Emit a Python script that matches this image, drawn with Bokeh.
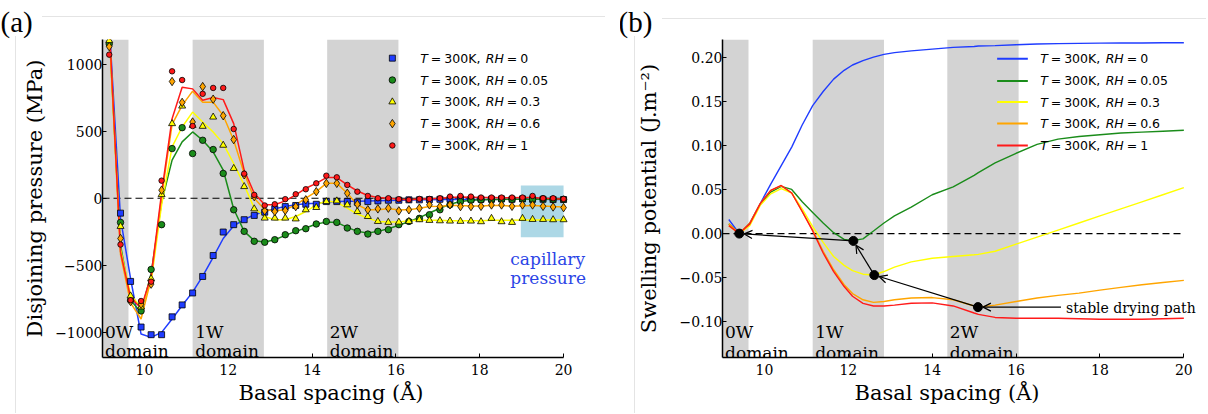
from bokeh.plotting import figure
from bokeh.layouts import row
from bokeh.models import (BoxAnnotation, Label, FixedTicker, Title,
                          CustomJSTickFormatter, Arrow, OpenHead)
from bokeh.embed import file_html
from bokeh.resources import INLINE

# ---------------- data: panel (a) disjoining pressure (MPa) ----------------
spacing_a = [9.16, 9.43, 9.67, 9.92, 10.16, 10.41, 10.66, 10.90, 11.15, 11.39,
             11.64, 11.88, 12.13, 12.38, 12.62, 12.87, 13.11, 13.36, 13.61, 13.85,
             14.10, 14.34, 14.59, 14.84, 15.08, 15.33, 15.57, 15.82, 16.07, 16.31,
             16.56, 16.80, 17.05, 17.29, 17.54, 17.79, 18.03, 18.28, 18.52, 18.77,
             19.02, 19.26, 19.51, 19.75, 20.00]

rh0_pts = [1400, -111, -620, -960, -1017, -1017, -884, -795, -706, -583, -427, -252, -197, -160, -128,
           -104, -79, -62, -54, -45, -45, -25, -25, -25, -30, -25, -20, -15, -15, -12,
           -12, -10, -8, -8, -5, -8, -8, -8, -5, -8, -5, -8, -8, -10, -10]
rh0_line = [1300, -150, -600, -1012, -1037, -1000, -900, -800, -700, -580, -440, -300, -205, -160, -123,
            -99, -79, -62, -49, -42, -37, -30, -25, -22, -22, -20, -18, -16, -15, -13,
            -12, -11, -10, -10, -9, -9, -9, -9, -8, -8, -8, -8, -8, -9, -9]
rh005_pts = [1150, -180, -760, -840, -531, -197, 370, 526, 333, 432, 363, 185, -86, -247, -321,
             -328, -309, -272, -242, -227, -192, -173, -180, -222, -247, -267, -247, -234, -197, -173,
             -150, -123, -86, -49, -25, -15, -12, -10, -8, -8, -5, -8, -5, -8, -8]
rh005_line = [1250, -350, -760, -850, -560, -30, 284, 420, 494, 432, 346, 210, -80, -247, -316,
              -326, -309, -277, -247, -222, -192, -178, -180, -217, -247, -259, -247, -227, -202, -173,
              -145, -110, -75, -45, -25, -15, -12, -10, -9, -8, -8, -8, -8, -8, -8]
rh03_pts = [1175, -210, -728, -810, -600, 27, 556, 687, 543, 536, 605, 395, 222, 87, -79,
            -148, -148, -148, -154, -86, -69, -25, -20, -49, -99, -136, -173, -180, -178, -173,
            -160, -165, -168, -170, -172, -170, -175, -150, -175, -180, -150, -158, -158, -160, -160]
rh03_line = [1250, -380, -720, -815, -620, -50, 383, 531, 642, 568, 494, 407, 259, 99, -74,
             -136, -160, -160, -136, -99, -49, -20, -30, -74, -118, -148, -173, -178, -178, -167,
             -165, -165, -165, -168, -168, -168, -168, -165, -165, -165, -163, -163, -163, -163, -163]
rh06_pts = [1130, -300, -770, -790, -640, 60, 870, 714, 568, 832, 738, 615, 437, 175, 12,
            -94, -99, -91, -62, -12, 49, 111, 111, 37, -45, -86, -79, -74, -94, -86,
            -74, -49, -62, -49, -62, -62, -60, -50, -50, -60, -50, -50, -60, -65, -70]
rh06_line = [1250, -420, -780, -900, -600, 13, 551, 692, 798, 716, 716, 617, 432, 185, 0,
             -86, -94, -86, -49, 0, 49, 111, 111, 37, -49, -86, -86, -79, -86, -86,
             -74, -62, -60, -55, -55, -58, -58, -55, -55, -58, -58, -55, -58, -62, -65]
rh1_pts = [1070, -345, -760, -766, -622, 131, 946, 881, 538, 778, 822, 822, 516, 183, 25,
           -54, -45, -7, 30, 67, 111, 168, 156, 99, 49, 17, 0, 0, -7, -12,
           -5, -5, 0, 12, 17, 12, 5, 5, 5, 5, 5, 17, 0, 0, -5]
rh1_line = [1300, -400, -740, -820, -580, 40, 593, 827, 815, 730, 750, 735, 556, 210, 37,
            -49, -49, -20, 25, 74, 111, 154, 154, 99, 54, 20, 5, 0, -7, -12,
            -5, -5, 0, 5, 10, 8, 5, 5, 3, 3, 5, 5, 0, -3, -5]

# ---------------- data: panel (b) swelling potential (J/m2) ----------------
spacing_b = [9.15, 9.40, 9.65, 9.90, 10.15, 10.40, 10.65, 10.90, 11.15, 11.40,
             11.65, 11.90, 12.10, 12.35, 12.60, 12.85, 13.10, 13.50, 14.00, 14.50,
             15.00, 15.10, 15.50, 16.00, 16.50, 17.00, 17.50, 18.00, 18.50, 19.00,
             19.50, 20.00]
rh0_b = [0.016, 0.000, 0.012, 0.034, 0.056, 0.077, 0.098, 0.123, 0.145, 0.161,
         0.175, 0.185, 0.191, 0.196, 0.200, 0.203, 0.205, 0.207, 0.209, 0.211,
         0.212, 0.2125, 0.213, 0.214, 0.2148, 0.2152, 0.2155, 0.2158, 0.216, 0.216,
         0.2162, 0.2162]
rh005_b = [0.011, 0.000, 0.011, 0.033, 0.047, 0.0535, 0.050, 0.036, 0.024, 0.012,
           0.001, -0.0065, -0.008, -0.006, 0.003, 0.012, 0.020, 0.030, 0.044, 0.053,
           0.066, 0.069, 0.080, 0.091, 0.101, 0.107, 0.110, 0.112, 0.114, 0.115,
           0.116, 0.117]
rh03_b = [0.009, 0.000, 0.009, 0.032, 0.045, 0.051, 0.046, 0.028, 0.008, -0.010,
          -0.026, -0.036, -0.042, -0.046, -0.047, -0.043, -0.038, -0.032, -0.028, -0.026,
          -0.024, -0.0235, -0.020, -0.012, -0.004, 0.004, 0.012, 0.020, 0.028, 0.036,
          0.044, 0.052]
rh06_b = [0.011, 0.000, 0.012, 0.034, 0.049, 0.054, 0.046, 0.025, 0.004, -0.020,
          -0.041, -0.058, -0.068, -0.075, -0.078, -0.077, -0.075, -0.073, -0.0725, -0.075,
          -0.082, -0.0833, -0.081, -0.077, -0.073, -0.070, -0.0675, -0.064, -0.061, -0.058,
          -0.0555, -0.053]
rh1_b = [0.009, 0.000, 0.011, 0.034, 0.049, 0.0545, 0.046, 0.025, 0.003, -0.022,
         -0.043, -0.060, -0.071, -0.079, -0.082, -0.082, -0.081, -0.079, -0.0785, -0.082,
         -0.090, -0.0915, -0.095, -0.096, -0.096, -0.096, -0.0965, -0.097, -0.097, -0.097,
         -0.0965, -0.096]

# stable drying path (minima) in panel (b)
path_x = [15.09, 12.62, 12.12, 9.40]
path_y = [-0.0833, -0.047, -0.0083, 0.0]

rh_values = ["0", "0.05", "0.3", "0.6", "1"]
hydration_domains = [("0W", 9.0, 9.62), ("1W", 11.15, 12.85), ("2W", 14.36, 16.06)]
x_limits = [9, 20]
xticks = [10, 12, 14, 16, 18, 20]
yticks_a = [-1000, -500, 0, 500, 1000]
yticks_b = [-0.10, -0.05, 0.0, 0.05, 0.10, 0.15, 0.20]

# ---------------- style ----------------
BLUE, GREEN, YELLOW, ORANGE, RED = "#1f3cff", "#1a8c1a", "#ffff00", "#ffa500", "#ff1a1a"
COLORS = [BLUE, GREEN, YELLOW, ORANGE, RED]
SERIF = "DejaVu Serif"
SANS = "DejaVu Sans"
BAND = "#d3d3d3"
FRAME_LINE = "#e4e4e4"
H = 413


def style_axes(p, fmt_code, ylabel, ylab_standoff, yticks, xlabel_offset):
    p.xaxis.ticker = FixedTicker(ticks=xticks)
    p.yaxis.ticker = FixedTicker(ticks=yticks)
    p.yaxis.formatter = CustomJSTickFormatter(code=fmt_code)
    p.yaxis.axis_label = ylabel
    p.xaxis.bounds = (x_limits[0], x_limits[1])
    for ax in (p.xaxis[0], p.yaxis[0]):
        ax.axis_line_color = "black"
        ax.axis_line_width = 1.5
        ax.major_tick_in = 4
        ax.major_tick_out = 0
        ax.minor_tick_in = 0
        ax.minor_tick_out = 0
        ax.major_tick_line_color = "black"
        ax.major_label_text_font = SERIF
        ax.major_label_text_font_size = "14px"
        ax.major_label_text_color = "black"
        ax.major_label_text_line_height = 1.0
        ax.axis_label_text_font = SERIF
        ax.axis_label_text_font_size = "21px"
        ax.axis_label_text_font_style = "normal"
        ax.axis_label_text_color = "black"
        ax.axis_label_text_line_height = 1.0
    p.xaxis.major_label_standoff = 6
    p.yaxis.major_label_standoff = 0
    p.yaxis.axis_label_standoff = ylab_standoff
    # x-axis label, placed under the [9, 20] span of the axis
    p.add_layout(Title(text="Basal spacing (Å)", align="left", offset=xlabel_offset,
                       text_font=SERIF, text_font_size="21px", text_font_style="normal",
                       text_color="black", text_line_height=1.0, standoff=2), "below")
    p.xgrid.visible = False
    p.ygrid.visible = False
    p.outline_line_color = None


def add_bands(p):
    for _, lo, hi in hydration_domains:
        p.add_layout(BoxAnnotation(left=lo, right=hi, fill_color=BAND, fill_alpha=1.0,
                                   line_color=None, level="underlay"))


def add_zero_line(p):
    p.line(x_limits, [0, 0], line_color="black", line_dash="7 4", line_width=1.2)


def add_domain_labels(p, y1, y2):
    for name, lo, hi in hydration_domains:
        for txt, yy in ((name, y1), ("domain", y2)):
            p.add_layout(Label(x=lo + 0.06, y=yy, text=txt, text_font=SERIF,
                               text_font_size="17px", text_color="black",
                               text_baseline="alphabetic"))


def add_legend_text(p, x, y, rh, xoff):
    pieces = [("T", "italic", 0.0), ("=", "normal", 10.5), ("300K,", "normal", 24.0),
              ("RH", "italic", 65.5), ("=", "normal", 86.5), (rh, "normal", 100.0)]
    for txt, style, off in pieces:
        p.add_layout(Label(x=x, y=y, x_offset=xoff + off, text=txt, text_font=SANS,
                           text_font_style=style, text_font_size="12.5px",
                           text_color="black", text_baseline="middle"))


def panel_title(p, txt, off):
    p.add_layout(Title(text=txt, align="left", offset=off, text_font="Liberation Serif",
                       text_font_size="29px", text_font_style="normal", text_color="black",
                       text_line_height=1.0, standoff=4), "above")


def panel_frame_css(top_x, top_y, top_w, left_x, left_y, left_h):
    g = f"linear-gradient({FRAME_LINE}, {FRAME_LINE})"
    return {
        "background-image": f"{g}, {g}",
        "background-size": f"{top_w}px 1px, 1px {left_h}px",
        "background-position": f"{top_x}px {top_y}px, {left_x}px {left_y}px",
        "background-repeat": "no-repeat",
    }


# ---------------- panel (a) ----------------
pa = figure(width=620, height=H, x_range=(9, 20.69), y_range=(-1187, 1183),
            output_backend="svg", toolbar_location=None,
            min_border_left=102, min_border_right=28, min_border_top=37, min_border_bottom=H - 357)
pa.background_fill_color = "white"
pa.border_fill_color = None
pa.styles = panel_frame_css(42, 16, 563, 15, 36, H - 36)
panel_title(pa, "(a)", -102)
add_bands(pa)
pa.add_layout(BoxAnnotation(left=18.98, right=20.0, bottom=-290, top=95,
                            fill_color="#add8e6", fill_alpha=1.0, line_color=None, level="underlay"))
add_zero_line(pa)

lines_a = [rh0_line, rh005_line, rh03_line, rh06_line, rh1_line]
pts_a = [rh0_pts, rh005_pts, rh03_pts, rh06_pts, rh1_pts]
markers = ["square", "circle", "triangle", "diamond", "circle"]
msizes = [6, 6.5, 7, 8.5, 5.5]
for ys, c in zip(lines_a, COLORS):
    pa.line(spacing_a, ys, line_color=c, line_width=1.5)
for ys, c, m, s in zip(pts_a, COLORS, markers, msizes):
    pa.scatter(spacing_a, ys, marker=m, size=s, fill_color=c, line_color="black", line_width=0.8)

style_axes(pa, "const s = Math.abs(tick).toFixed(0); return tick < -1e-9 ? '\u2212' + s : s;",
           "Disjoining pressure (MPa)", 5, yticks_a, 136)
add_domain_labels(pa, -1000, -1141)

# legend (a)
leg_rows_a = [1044, 881, 718, 556, 393]
leg_x_a = 15.915
for yy, c, m, s, rh in zip(leg_rows_a, COLORS, markers, msizes, rh_values):
    pa.scatter([leg_x_a], [yy], marker=m, size=s, fill_color=c, line_color="black", line_width=0.8)
    add_legend_text(pa, leg_x_a, yy, rh, 28)

pa.add_layout(Label(x=18.73, y=-456, text="capillary", text_font=SERIF, text_font_size="17px",
                    text_color="#2b45e6", text_baseline="alphabetic"))
pa.add_layout(Label(x=18.73, y=-597, text="pressure", text_font=SERIF, text_font_size="17px",
                    text_color="#2b45e6", text_baseline="alphabetic"))

# ---------------- panel (b) ----------------
pb = figure(width=586, height=H, x_range=(9, 20.54), y_range=(-0.1404, 0.2199),
            output_backend="svg", toolbar_location=None,
            min_border_left=102, min_border_right=0, min_border_top=39, min_border_bottom=H - 359)
pb.background_fill_color = "white"
pb.border_fill_color = None
pb.styles = panel_frame_css(42, 18, 544, 14, 36, H - 36)
panel_title(pb, "(b)", -104)
add_bands(pb)
add_zero_line(pb)
lines_b = [rh0_b, rh005_b, rh03_b, rh06_b, rh1_b]
for ys, c in zip(lines_b, COLORS):
    pb.line(spacing_b, ys, line_color=c, line_width=1.4)

style_axes(pb, "const s = Math.abs(tick).toFixed(2); return tick < -1e-9 ? '\u2212' + s : s;",
           "Swelling potential (J.m\u207b\u00b2)", 16, yticks_b, 132)
add_domain_labels(pb, -0.1115, -0.1348)

# legend (b)
leg_rows_b = [0.1982, 0.1730, 0.1490, 0.1246, 0.0998]
for yy, c, rh in zip(leg_rows_b, COLORS, rh_values):
    pb.line([15.548, 16.28], [yy, yy], line_color=c, line_width=2)
    add_legend_text(pb, 16.574, yy, rh, 0)

# drying path arrows
SX, SY = 41.91, 888.0  # px per data unit


def shrink(x0, y0, x1, y1, d=5.0):
    dx, dy = (x1 - x0) * SX, (y1 - y0) * SY
    L = (dx * dx + dy * dy) ** 0.5
    return x1 - dx / L * d / SX, y1 - dy / L * d / SY


for i in range(len(path_x) - 1):
    ex, ey = shrink(path_x[i], path_y[i], path_x[i + 1], path_y[i + 1])
    pb.add_layout(Arrow(end=OpenHead(size=8, line_color="black", line_width=1.2),
                        x_start=path_x[i], y_start=path_y[i], x_end=ex, y_end=ey,
                        line_color="black", line_width=1.2))
ex, ey = shrink(17.07, path_y[0], path_x[0], path_y[0])
pb.add_layout(Arrow(end=OpenHead(size=8, line_color="black", line_width=1.2),
                    x_start=17.07, y_start=path_y[0], x_end=ex, y_end=ey,
                    line_color="black", line_width=1.2))
pb.scatter(path_x, path_y, size=9, fill_color="black", line_color="black")
pb.add_layout(Label(x=17.19, y=-0.0845, text="stable drying path", text_font=SERIF,
                    text_font_size="14px", text_color="black", text_baseline="middle"))

layout = row(pa, pb)
open("out.html", "w").write(file_html(layout, INLINE))
